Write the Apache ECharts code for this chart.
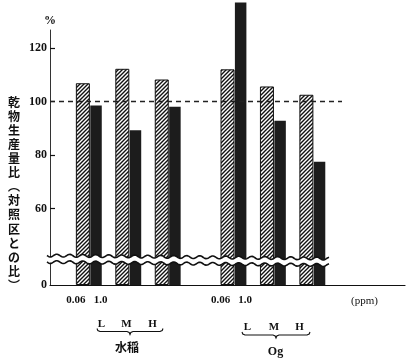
<!DOCTYPE html>
<html><head><meta charset="utf-8">
<script src="https://cdn.jsdelivr.net/npm/echarts@6/dist/echarts.min.js"></script>
<style>html,body{margin:0;padding:0;background:#fff}#c{width:408px;height:363px}</style>
</head><body><div id="c"></div>
<script>
// ---- data ----
const groups = ['水稲', 'Og'];
const levels = ['L', 'M', 'H'];
const concentrations = ['0.06', '1.0'];
const lowConc  = [106.8, 112.2, 108.2, 112.0, 105.6, 102.5]; // 0.06 ppm (hatched)
const highConc = [98.5, 89.2, 98.0, 137.0, 92.8, 77.5];      // 1.0 ppm (black)
const yTicks = [60, 80, 100, 120];
const refValue = 100;
const yAxisFoot = 31.4;   // value at the broken-axis foot, labelled "0"
const yAxisTop = 126.7;

// ---- layout ----
const slotCount = 27;
const pairSlots = [2, 5, 8, 13, 16, 19];
const slotNames = Array.from({length: slotCount}, (_, i) => 's' + i);
const lowData = Array(slotCount).fill(null);
const highData = Array(slotCount).fill(null);
const xLabels = Array(slotCount).fill('');
pairSlots.forEach((s, i) => { lowData[s] = lowConc[i]; highData[s + 1] = highConc[i]; });
[0, 3].forEach(i => { xLabels[pairSlots[i]] = 'a' + concentrations[0]; xLabels[pairSlots[i] + 1] = 'b' + concentrations[1]; });

const SERIF = '"Liberation Serif", "DejaVu Serif", serif';
const JP = '"Noto Sans CJK JP", sans-serif';

// hatch pattern
const pat = document.createElement('canvas'); pat.width = 4; pat.height = 4;
const g = pat.getContext('2d');
g.fillStyle = '#fff'; g.fillRect(0, 0, 4, 4);
g.strokeStyle = '#111'; g.lineWidth = 1.4;
g.beginPath();
g.moveTo(-1, 5); g.lineTo(5, -1);
g.moveTo(-1, 1); g.lineTo(1, -1);
g.moveTo(3, 5); g.lineTo(5, 3);
g.stroke();

// wavy axis break decoration
function wave(x0, x1, yc, amp, period, tilt) {
  const pts = [];
  for (let x = x0; x <= x1; x += 1) pts.push([x, yc + (x - x0) * tilt + amp * Math.sin((x - x0) / period * 2 * Math.PI)]);
  return pts;
}
const up = wave(47, 329, 255.5, 1.4, 13, 0.011);
const lo = wave(47, 329, 262, 1.4, 13, 0.011);
const band = up.concat(lo.slice().reverse());

function brace(x1, x2, y, h) {
  const m = (x1 + x2) / 2;
  return [[x1, y], [x1 + 0.8, y + 2], [x1 + 3, y + 3], [m - 3, y + 3], [m - 0.8, y + 4], [m, y + h],
          [m + 0.8, y + 4], [m + 3, y + 3], [x2 - 3, y + 3], [x2 - 0.8, y + 2], [x2, y]];
}

function txt(text, x, y, size, family, weight) {
  return {type: 'text', x: x, y: y, z: 110,
    style: {text: text, fill: '#111', font: (weight || 'bold') + ' ' + size + 'px ' + family,
      textAlign: 'center', align: 'center', textVerticalAlign: 'middle', verticalAlign: 'middle'}};
}

const yTitle = '乾物生産量比︵対照区との比︶'.split('').join('\n');

const chart = echarts.init(document.getElementById('c'));
chart.setOption({
  animation: false,
  backgroundColor: '#fff',
  grid: {left: 50, right: 3, top: 30, bottom: 78},
  xAxis: [{
    type: 'category', data: slotNames,
    axisLine: {lineStyle: {color: '#111', width: 1.2}},
    axisTick: {show: false},
    axisLabel: {
      interval: 0, margin: 10, color: '#111', fontFamily: SERIF, fontSize: 11, fontWeight: 'bold',
      formatter: (v, i) => {
        const l = xLabels[i];
        if (!l) return '';
        return l[0] === 'a' ? '{a|' + l.slice(1) + '}' : '{b|' + l.slice(1) + '}';
      },
      rich: {
        a: {padding: [0, 14, 0, 0], fontFamily: SERIF, fontSize: 11, fontWeight: 'bold', color: '#111'},
        b: {padding: [0, 0, 0, 9], fontFamily: SERIF, fontSize: 11, fontWeight: 'bold', color: '#111'}
      }
    }
  }, {
    type: 'category', data: slotNames, show: false, position: 'bottom'
  }],
  yAxis: {
    type: 'value', min: yAxisFoot, max: yAxisTop, startValue: yAxisFoot,
    name: '%', nameLocation: 'end', nameGap: 3,
    nameTextStyle: {fontFamily: SERIF, fontSize: 12, fontWeight: 'bold', color: '#111', align: 'center'},
    axisLine: {show: true, lineStyle: {color: '#333', width: 1}},
    axisTick: {show: true, inside: true, length: 5, customValues: yTicks, lineStyle: {color: '#111', width: 1.2}},
    axisLabel: {
      customValues: [yAxisFoot].concat(yTicks), margin: 3, color: '#111',
      fontFamily: SERIF, fontSize: 12, fontWeight: 'bold',
      formatter: v => (v < yTicks[0] - 10 ? '0' : String(Math.round(v)))
    },
    splitLine: {show: false}
  },
  series: [{
    name: concentrations[0], type: 'bar', xAxisIndex: 0, data: lowData, barWidth: 14,
    itemStyle: {color: {image: pat, repeat: 'repeat'}, borderColor: '#111', borderWidth: 1},
    markLine: {
      symbol: 'none', silent: true, label: {show: false}, animation: false,
      lineStyle: {type: [5, 4], color: '#222', width: 1.3},
      data: [[{x: 50, yAxis: refValue}, {x: 342, yAxis: refValue}]]
    }
  }, {
    name: concentrations[1], type: 'bar', xAxisIndex: 1, data: highData, barWidth: 11.5,
    clip: false,
    itemStyle: {color: '#1c1c1c'}
  }],
  graphic: [
    {type: 'polygon', z: 100, shape: {points: band}, style: {fill: '#fff', stroke: null}},
    {type: 'polyline', z: 101, shape: {points: up}, style: {stroke: '#111', lineWidth: 1.6, fill: null}},
    {type: 'polyline', z: 101, shape: {points: lo}, style: {stroke: '#111', lineWidth: 1.6, fill: null}},
    {type: 'text', x: 14, y: 95, z: 110,
      style: {text: yTitle, fill: '#111', font: 'bold 12px ' + JP, lineHeight: 14.1,
        textAlign: 'center', align: 'center', textVerticalAlign: 'top', verticalAlign: 'top'}},
    txt(levels[0], 101.5, 324, 11, SERIF), txt(levels[1], 126.5, 324, 11, SERIF), txt(levels[2], 152.5, 324, 11, SERIF),
    txt(levels[0], 247.5, 327, 11, SERIF), txt(levels[1], 274, 327, 11, SERIF), txt(levels[2], 299.5, 327, 11, SERIF),
    {type: 'polyline', z: 101, shape: {points: brace(97, 163, 328.5, 6)}, style: {stroke: '#111', lineWidth: 1.1, fill: null}},
    {type: 'polyline', z: 101, shape: {points: brace(242, 310, 332, 6)}, style: {stroke: '#111', lineWidth: 1.1, fill: null}},
    txt(groups[0], 127, 347.5, 12, JP),
    txt(groups[1], 275.5, 352, 12, SERIF),
    txt('(ppm)', 364.5, 301, 11, SERIF, 'normal')
  ]
});
</script></body></html>
